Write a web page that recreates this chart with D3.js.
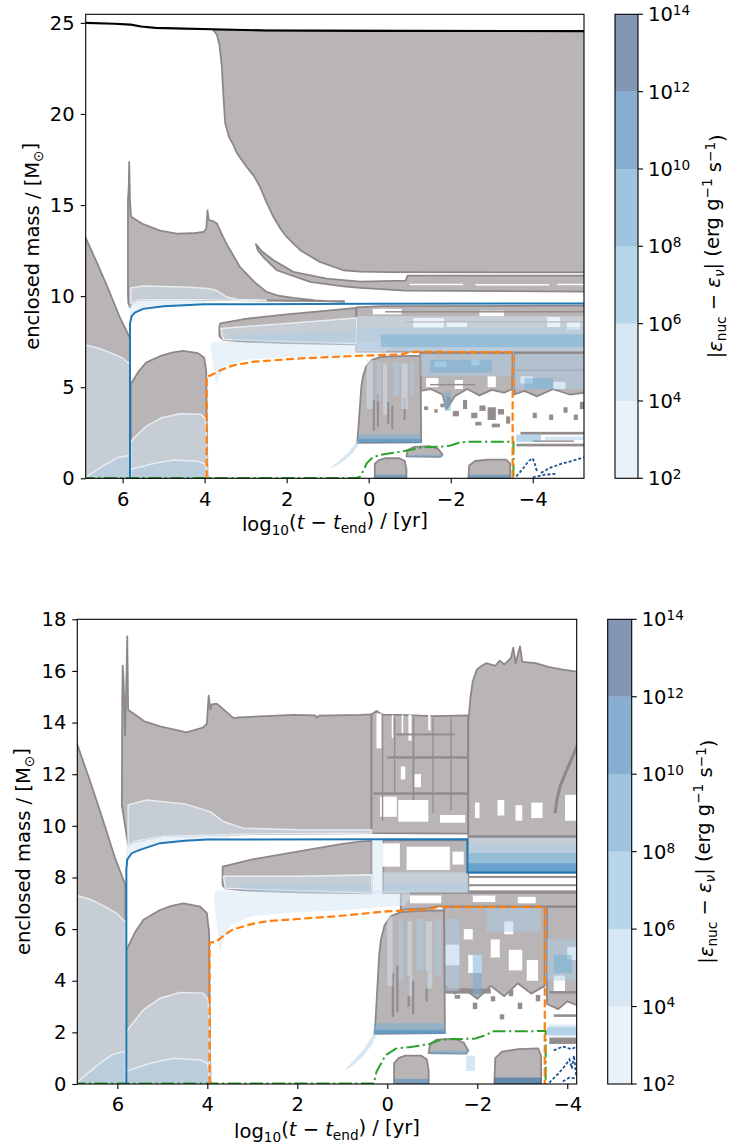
<!DOCTYPE html>
<html>
<head>
<meta charset="utf-8">
<script src="https://cdn.jsdelivr.net/npm/d3@7"></script>
<style>
body { margin: 0; background: #fff; }
text { font-family: "DejaVu Sans", sans-serif; }
</style>
</head>
<body>
<div id="chart-area"></div>
<script>
/*
*    Kippenhahn diagrams, two models
*/

// ticks and levels
var xTicks = [6, 4, 2, 0, -2, -4];
var topYTicks = [0, 5, 10, 15, 20, 25];
var botYTicks = [0, 2, 4, 6, 8, 10, 12, 14, 16, 18];
var cbExp = [2, 4, 6, 8, 10, 12, 14];
var bandColors = ["#d5e5f4", "#adcde5", "#6fadd3", "#3d89c1", "#0f5da5", "#08306b"];

// shared shapes, [log10(t-tend), mass]
var msConv = [[7.0,0],[7.0,13.7],[6.9,13.2],[6.6,11.7],[6.39,10.6],[6.06,8.8],[5.82,7.7],[5.82,0]];
var msBurnLow = [[7.0,0],[7.0,7.35],[6.9,7.3],[6.6,7.15],[6.3,6.9],[6.1,6.7],[6.0,6.6],[5.9,6.4],[5.82,6.3],[5.82,0]];
var msBurnCore = [[7.0,0],[6.9,0.05],[6.6,0.5],[6.39,0.8],[6.1,1.15],[5.87,1.24],[5.82,1.25],[5.82,0]];
var heConv = [[5.8,0],[5.8,5.2],[5.76,5.32],[5.6,5.9],[5.42,6.36],[5.05,6.74],[4.8,6.9],[4.53,7.0],[4.16,6.87],[4.01,6.62],[3.96,5.84],[3.95,3],[3.93,0.1],[3.9,0]];
var heBurnLow = [[5.8,0],[5.8,2.0],[5.72,2.22],[5.42,2.87],[5.05,3.32],[4.61,3.54],[4.09,3.52],[3.98,3.26],[3.95,2.0],[3.94,0]];
var heBurnCore = [[5.8,0],[5.8,0.5],[5.72,0.54],[5.27,0.8],[4.76,1.0],[4.16,0.93],[4.0,0.8],[3.96,0.5],[3.95,0]];
var cBlock = [[0.28,1.94],[0.26,2.5],[0.18,5.0],[0.14,5.6],[0.06,6.15],[-0.08,6.5],[-0.3,6.66],[-0.9,6.72],[-1.26,6.72],[-1.27,4.8],[-1.28,1.97]];
var blob1 = [[-0.15,0],[-0.15,0.8],[-0.25,1.0],[-0.4,1.1],[-0.75,1.1],[-0.88,0.95],[-0.92,0.5],[-0.92,0]];
var blob2 = [[-0.92,1.2],[-0.95,1.55],[-1.1,1.72],[-1.5,1.76],[-1.7,1.6],[-1.8,1.3],[-1.75,1.18]];
var haloBlue = [[3.82,7.5],[3.86,7.2],[3.82,6.6],[3.76,5.8],[3.72,5.0],[3.66,5.5],[3.5,6.15],[3.0,6.5],[2.0,6.65],[1.0,6.72],[0.2,6.85],[-0.4,6.9],[-0.5,7.2],[-0.5,7.5]];
var blueTail = [[0.95,0.55],[0.75,0.9],[0.5,1.4],[0.32,1.9],[0.22,2.3],[0.22,1.95],[0.35,1.5],[0.55,1.05],[0.85,0.6]];

// top model
var topMassLine = [[6.9,25.0],[6.2,24.95],[5.8,24.9],[5.55,24.8],[5.2,24.72],[4.5,24.68],[3.8,24.65],[2.5,24.58],[0,24.56],[-5.3,24.55]];
var topEnvelope = [[3.8,24.62],[3.7,24.35],[3.64,23.8],[3.58,22.6],[3.55,21.3],[3.5,19.5],[3.4,18.7],[3.3,18.3],[3.2,17.8],[2.97,17.08],[2.8,16.6],[2.65,16.0],[2.5,15.2],[2.32,14.34],[2.15,13.7],[2.0,13.25],[1.67,12.52],[1.19,11.88],[0.62,11.42],[0.21,11.35],[-0.5,11.32],[-5.3,11.3],[-5.3,24.55],[2.5,24.58]];
var topShell = [[5.87,10.2],[5.87,15.3],[5.85,16.0],[5.84,17.37],[5.82,15.2],[5.8,14.5],[5.78,14.34],[5.5,13.95],[5.09,13.6],[4.68,13.43],[4.3,13.45],[4.03,13.52],[3.96,13.7],[3.93,14.7],[3.9,14.2],[3.87,14.16],[3.78,14.1],[3.7,13.98],[3.62,13.6],[3.55,13.25],[3.45,12.8],[3.37,12.5],[3.14,11.6],[2.79,10.78],[2.49,10.23],[2.2,10.02],[1.84,9.9],[1.3,9.76],[0.8,9.7],[0.6,9.68],[0.6,9.72],[2.5,9.76],[4.0,9.8],[5.0,9.82],[5.6,9.8],[5.78,9.6],[5.82,9.4],[5.86,9.6]];
var topShellBurn = [[5.8,10.45],[5.5,10.55],[4.5,10.5],[3.9,10.42],[3.7,10.3],[3.46,9.95],[3.2,9.82],[2.5,9.78],[2.5,9.76],[4.0,9.8],[5.0,9.82],[5.6,9.8],[5.78,9.6],[5.8,9.7]];
var topBlueHalo = [[5.82,8.4],[5.83,9.75],[5.0,9.8],[4.0,9.76],[4.0,9.56],[5.0,9.46],[5.5,9.3],[5.7,9.1],[5.78,8.9]];
var topSliver = [[2.75,12.85],[2.6,12.45],[2.32,11.97],[1.84,11.33],[1.02,10.96],[0.21,10.8],[-0.9,10.85],[-0.95,11.12],[-5.3,11.12],[-5.3,10.25],[-0.9,10.3],[0.21,10.45],[0.62,10.54],[1.43,10.78],[2.24,11.42],[2.55,12.1],[2.7,12.5]];
var topHeShell = [[3.62,8.5],[3.0,8.75],[2.0,9.0],[1.0,9.2],[0.3,9.35],[0.3,7.35],[1.0,7.38],[2.0,7.42],[3.0,7.5],[3.55,7.6],[3.64,7.8],[3.64,8.3]];
var topHeBurn1 = [[3.6,8.22],[2.0,8.5],[0.3,8.8],[0.3,7.4],[3.55,7.62]];
var topHeBurn2 = [[3.4,7.85],[0.3,8.1],[0.3,7.4],[3.3,7.52]];
var topUpperRight = [[0.3,9.38],[-0.3,9.45],[-5.3,9.48],[-5.3,6.95],[0.3,6.95]];
var topLowerA = [[-1.26,6.88],[-3.5,6.88],[-3.5,4.9],[-3.3,4.7],[-3.0,4.85],[-2.7,4.55],[-2.4,4.9],[-2.1,4.5],[-1.9,3.8],[-1.8,4.6],[-1.5,4.9],[-1.26,4.8]];
var topLowerB = [[-3.55,6.88],[-5.3,6.88],[-5.3,4.7],[-4.9,4.6],[-4.5,4.9],[-4.1,4.5],[-3.8,4.8],[-3.55,4.6]];
var topBlob3 = [[-2.43,0],[-2.45,0.7],[-2.6,0.95],[-2.9,1.02],[-3.35,1.02],[-3.45,0.8],[-3.45,0]];
var topHoles = [[-1.0,-2.3,10.6,10.68],[-2.6,-4.4,10.58,10.66],[-4.6,-5.3,10.6,10.68],
  [-1.09,-1.83,8.25,8.8],[-1.9,-2.4,8.3,8.6],[-4.35,-4.67,8.3,8.85],[-4.83,-5.15,8.15,8.6],[-0.1,-0.8,9.0,9.3],[-2.7,-3.3,8.9,9.2],
  [-1.4,-1.7,5.0,5.5],[-2.1,-2.3,4.9,5.4],[-2.9,-3.1,5.0,5.6],[-3.7,-4.0,5.2,5.6],[-4.5,-4.8,4.9,5.3],[-1.6,-1.9,6.1,6.4],[-2.5,-2.7,6.2,6.5]];
var topFrags = [[-1.35,-1.45,3.75,3.95],[-1.6,-1.68,3.6,3.8],[-1.75,-1.85,3.9,4.1],[-2.05,-2.2,3.4,3.7],[-2.3,-2.4,3.8,4.3],[-2.5,-2.65,3.3,3.6],[-2.7,-2.85,3.7,4.0],[-2.9,-3.1,3.2,3.9],[-3.15,-3.3,3.5,3.8],[-3.35,-3.45,3.0,3.4],[-2.6,-2.75,2.9,3.1],[-3.0,-3.2,2.8,3.0],[-1.9,-2.0,4.0,4.5],[-4.0,-4.1,3.3,3.6],[-4.4,-4.5,3.2,3.5],[-4.75,-4.85,3.6,3.9],[-5.0,-5.1,3.2,3.5],[-5.15,-5.25,3.8,4.2],
  [-3.6,-5.3,1.75,1.9],[-3.7,-5.3,2.4,2.55],[-4.0,-5.0,2.0,2.08],
  [-0.1,-0.15,2.6,4.3],[-0.2,-0.25,2.8,4.6],[-0.45,-0.5,3.0,4.2],[-0.55,-0.6,2.7,4.0],[-0.85,-0.9,3.2,4.4],
  [-0.4,-5.3,9.1,9.18],[-0.9,-5.3,8.55,8.62],[-1.5,-2.6,5.1,5.18],[-3.6,-5.3,5.9,5.98]];
var topBurnRects = [[0.3,-5.3,6.95,8.9,0],[0.3,-5.3,7.05,8.3,1],[-0.3,-5.3,7.2,7.9,2],
  [-1.26,-3.5,5.6,6.8,1],[-1.5,-3.0,5.8,6.5,2],[-3.55,-5.3,4.9,6.8,1],[-3.8,-4.5,4.9,5.5,2],
  [0.05,-0.1,3.8,6.5,0],[-0.2,-0.3,4.2,6.4,1],[-0.35,-0.45,3.5,6.3,0],[-0.6,-0.75,4.5,6.4,1],[-0.8,-0.95,3.8,6.3,0],[-1.0,-1.1,4.6,6.4,1],[-1.85,-2.0,3.7,4.8,2],
  [0.26,-1.28,1.95,2.4,2],[0.26,-1.28,1.95,2.15,3],
  [-3.6,-4.2,2.0,2.4,2],[-4.3,-5.3,2.1,2.3,1],
  [-0.15,-0.92,0,0.2,3],[-2.43,-3.45,0,0.2,3],[-0.95,-1.8,1.15,1.3,2]];
var topScatter = [[[-3.6,0.1],[-3.75,0.5],[-3.9,0.95],[-4.0,1.1],[-4.05,0.8],[-4.1,0.4]],
  [[-4.2,0.3],[-4.45,0.6],[-4.7,0.8],[-4.95,0.95],[-5.25,1.15]],
  [[-4.0,0.05],[-4.3,0.2],[-4.6,0.25]]];
var topHeCore = [[5.82,0],[5.82,8.5],[5.78,8.9],[5.7,9.1],[5.5,9.3],[5.0,9.45],[4.0,9.55],[0,9.58],[-5.3,9.6]];
var topCOCore = [[3.95,0],[3.95,5.6],[3.85,5.65],[3.6,5.95],[3.3,6.2],[2.8,6.4],[1.67,6.58],[0.5,6.7],[-0.5,6.78],[-0.8,6.8],[-1.0,6.92],[-1.2,6.94],[-3.51,6.92],[-3.51,0]];
var topFeCore = [[7.0,0.02],[0.3,0.02],[0.21,0.09],[0.1,0.55],[0.05,0.82],[-0.1,1.15],[-0.28,1.28],[-0.6,1.4],[-1.01,1.55],[-1.3,1.7],[-1.74,1.73],[-2.0,1.8],[-2.2,1.95],[-2.39,2.0],[-3.53,2.0],[-3.53,0.0]];

// bottom model
var botShell = [[5.9,10.8],[5.89,15.0],[5.88,16.2],[5.86,15.6],[5.83,13.5],[5.8,15.5],[5.78,17.34],[5.76,14.5],[5.4,14.05],[5.05,13.85],[4.46,13.62],[4.1,13.8],[4.01,13.95],[3.97,15.04],[3.93,14.5],[3.9,14.7],[3.79,14.73],[3.6,14.45],[3.42,14.17],[3.3,14.2],[2.09,14.3],[1.6,14.28],[1.57,14.18],[1.52,14.27],[0.61,14.3],[0.35,14.32],[0.35,9.72],[3.0,9.68],[5.0,9.6],[5.6,9.4],[5.76,9.25]];
var botShellBurn = [[5.76,10.81],[5.35,11.0],[4.5,10.85],[3.94,10.55],[3.65,10.17],[3.2,9.91],[2.0,9.85],[0.35,9.84],[0.35,9.72],[3.0,9.68],[5.0,9.6],[5.6,9.4],[5.76,9.25]];
var botBlueHalo = [[5.8,8.3],[5.8,9.3],[5.0,9.62],[3.5,9.68],[3.5,9.46],[4.5,9.42],[5.05,9.33],[5.5,9.07],[5.68,8.94]];
var botHeShell = [[3.66,8.42],[3.0,8.7],[2.0,9.0],[1.0,9.3],[0.61,9.39],[0.35,9.42],[0.35,7.38],[2.0,7.42],[3.2,7.5],[3.6,7.58],[3.66,7.7]];
var botHeBurn1 = [[3.64,8.05],[2.0,8.05],[0.35,8.1],[0.35,7.4],[3.6,7.58]];
var botHeBurn2 = [[3.3,7.75],[0.35,7.75],[0.35,7.4],[3.2,7.5]];
var botMid = [[0.35,14.32],[0.24,14.45],[0.1,14.3],[-0.3,14.3],[-1.0,14.25],[-1.8,14.28],[-1.8,9.7],[0.35,9.72]];
var botTall = [[-1.8,9.6],[-1.8,14.0],[-1.85,15.0],[-1.9,15.6],[-1.99,16.05],[-2.1,16.2],[-2.2,16.3],[-2.4,16.2],[-2.5,16.4],[-2.6,16.25],[-2.75,16.5],[-2.8,16.9],[-2.85,16.3],[-2.95,16.95],[-3.0,16.35],[-3.3,16.3],[-3.6,16.15],[-3.9,16.05],[-4.1,16.0],[-4.3,15.95],[-4.3,9.6]];
var botShell2 = [[-1.8,9.55],[-4.3,9.55],[-4.3,8.19],[-1.8,8.19]];
var botArc = [[-4.3,13.3],[-4.21,13.07],[-4.1,12.6],[-3.95,12.0],[-3.84,11.52],[-3.77,11.0],[-3.73,10.49]];
var botMidLower = [[0.09,9.44],[-1.8,9.44],[-1.8,7.4],[0.09,7.4]];
var botStrip7 = [[-0.3,7.4],[-4.3,7.4],[-4.3,6.88],[-1.1,6.88],[-0.9,6.8],[-0.3,6.75]];
var botLowerA = [[-1.26,6.86],[-3.5,6.86],[-3.5,3.8],[-3.2,3.5],[-2.9,3.9],[-2.6,3.4],[-2.3,3.8],[-2.0,3.3],[-1.7,3.7],[-1.5,3.5],[-1.26,3.8]];
var botLowerB = [[-3.55,6.86],[-4.3,6.86],[-4.3,3.0],[-4.0,3.2],[-3.8,2.9],[-3.55,3.1]];
var botBlob3 = [[-2.38,0],[-2.4,1.0],[-2.55,1.25],[-2.9,1.35],[-3.35,1.38],[-3.42,1.1],[-3.42,0]];
var botHoles = [[0.24,0.13,13.0,14.35],[-0.1,-0.13,13.4,14.3],[-0.32,-0.355,13.6,14.3],[-0.47,-0.54,13.3,14.3],[-0.91,-0.96,13.7,14.3],
  [0.16,-0.21,10.35,11.13],[-0.244,-0.911,10.16,11.0],[-1.17,-1.73,10.12,10.42],[-0.6,-0.75,11.5,12.0],[-0.3,-0.4,11.8,12.3],
  [-1.95,-2.05,10.3,10.9],[-2.45,-2.6,10.4,11.0],[-2.85,-3.0,10.2,10.8],[-3.2,-3.45,10.3,10.9],[-3.95,-4.3,10.2,11.2],
  [0.16,-0.28,8.42,9.32],[-0.43,-1.39,8.29,9.19],[-1.45,-1.7,8.5,9.0],
  [-0.5,-1.2,7.0,7.3],[-1.9,-2.4,7.05,7.3],[-2.9,-3.3,7.0,7.25],
  [-1.3,-1.6,4.6,5.4],[-1.8,-2.1,4.3,5.0],[-2.3,-2.5,4.9,5.6],[-2.7,-3.0,4.4,5.2],[-3.1,-3.35,4.0,4.8],[-1.7,-1.9,5.6,6.0],[-2.6,-2.8,5.8,6.3],[-3.7,-3.95,3.6,4.2],[-4.0,-4.2,4.8,5.3]];
var botFrags = [[0.12,0.09,10.2,14.3],[-0.15,-0.18,11.2,14.2],[-0.56,-0.6,11.0,14.2],[-1.0,-1.03,10.5,14.2],[-1.4,-1.43,10.6,14.2],
  [0.3,-1.8,11.2,11.3],[0.0,-1.8,12.6,12.7],[-0.2,-1.5,13.5,13.58],
  [-1.8,-4.3,7.98,8.06],[-1.8,-4.3,7.66,7.74],[-1.8,-4.3,7.4,7.5],
  [-1.26,-2.3,3.5,3.7],[-1.5,-1.62,3.3,3.45],[-1.9,-2.0,2.9,3.15],[-2.3,-2.4,3.2,3.4],[-2.7,-2.8,3.4,3.65],[-2.9,-3.0,2.9,3.15],[-3.3,-3.4,3.2,3.45],[-2.5,-2.6,2.5,2.7],
  [-3.6,-4.3,3.5,3.6],[-3.7,-4.3,2.6,2.7],[-3.6,-4.3,1.55,1.8],
  [-0.1,-0.15,2.6,4.3],[-0.2,-0.25,2.8,4.6],[-0.45,-0.5,3.0,4.2],[-0.55,-0.6,2.7,4.0],[-0.85,-0.9,3.2,4.4]];
var botBurnRects = [[-1.8,-4.3,8.19,9.55,0],[-1.8,-4.3,8.19,9.3,1],[-1.8,-4.3,8.19,8.95,2],[-1.8,-4.3,8.19,8.55,3],
  [0.35,0.09,7.4,9.45,0],[0.09,-1.8,7.4,8.2,0],[0.09,-1.8,7.45,7.8,1],
  [-1.3,-1.6,3.6,6.4,1],[-1.9,-2.1,3.4,5.0,2],[-2.2,-3.4,5.9,6.8,1],[-3.55,-4.3,4.0,5.6,1],[-3.7,-4.1,4.3,5.0,2],
  [0.0,-0.12,3.8,6.5,0],[-0.25,-0.35,4.0,6.4,1],[-0.45,-0.55,3.4,6.3,0],[-0.65,-0.8,4.4,6.4,1],[-0.85,-1.0,3.7,6.3,0],[-1.05,-1.2,4.2,6.4,1],
  [0.3,-1.28,1.94,2.35,2],[0.3,-1.28,1.94,2.1,3],
  [-3.55,-4.3,1.9,2.2,2],[-3.6,-4.3,1.85,2.3,1],
  [-0.15,-0.92,0,0.2,3],[-2.38,-3.42,0,0.25,4],[-1.75,-1.95,0.5,1.1,1],[-0.95,-1.8,1.15,1.3,2]];
var botScatter = [[[-3.6,0.05],[-3.8,0.4],[-3.95,0.7],[-4.05,0.95],[-4.1,0.6],[-4.15,1.1],[-4.2,0.3]],
  [[-3.7,1.3],[-3.9,1.45],[-4.1,1.35],[-4.25,1.5]],
  [[-3.9,0.1],[-4.05,0.25],[-4.25,0.2]]];
var botHeCore = [[5.8,0],[5.8,8.3],[5.78,8.7],[5.68,8.94],[5.5,9.07],[5.05,9.33],[4.5,9.42],[4,9.47],[0,9.48],[-1.78,9.48],[-1.78,8.19],[-4.3,8.19]];
var botCOCore = [[3.95,0],[3.95,5.48],[3.81,5.5],[3.6,5.8],[3.43,5.99],[3.0,6.2],[2.66,6.31],[1.12,6.5],[0.0,6.69],[-0.88,6.76],[-1.0,6.8],[-1.11,6.86],[-3.5,6.86],[-3.5,0]];
var botFeCore = [[7.0,0.02],[0.3,0.02],[0.24,0.47],[0.04,1.11],[-0.19,1.37],[-0.6,1.45],[-0.96,1.56],[-1.19,1.72],[-1.96,1.76],[-2.2,1.9],[-2.34,2.04],[-3.52,2.05],[-3.52,0]];

var svg = d3.select("#chart-area").append("svg")
    .attr("width", 729)
    .attr("height", 1148);

var convFill = "#b9b5b6", convEdge = "#8e8789", fragFill = "#948d8f";
var fs = "19.5px";

function rich(sel, parts) {
    // parts: [text, kind]
    var base = 0;
    parts.forEach(function(p) {
        var t = sel.append("tspan").text(p[0]);
        var want = 0;
        if (p[1].indexOf("sub") >= 0) want = 0.3;
        if (p[1].indexOf("sup") >= 0) want = -0.45;
        if (want != base) t.attr("dy", (want - base) + "em");
        base = want;
        if (p[1].indexOf("sub") >= 0 || p[1].indexOf("sup") >= 0) t.attr("font-size", "0.7em");
        if (p[1].indexOf("i") == 0) t.attr("font-style", "italic");
    });
}

function panel(cfg) {
    var x = d3.scaleLinear().domain(cfg.xDom).range([cfg.left, cfg.right]);
    var y = d3.scaleLinear().domain(cfg.yDom).range([cfg.bottom, cfg.top]);
    var line = d3.line().x(function(d) { return x(d[0]); }).y(function(d) { return y(d[1]); });

    var clipId = "clip" + cfg.id;
    svg.append("clipPath").attr("id", clipId).append("rect")
        .attr("x", cfg.left).attr("y", cfg.top)
        .attr("width", cfg.right - cfg.left).attr("height", cfg.bottom - cfg.top);
    var g = svg.append("g").attr("clip-path", "url(#" + clipId + ")");

    function rects(list, fillFn, op) {
        g.append("g").selectAll("rect").data(list).enter().append("rect")
            .attr("x", function(d) { return Math.min(x(d[0]), x(d[1])); })
            .attr("width", function(d) { return Math.abs(x(d[1]) - x(d[0])); })
            .attr("y", function(d) { return y(d[3]); })
            .attr("height", function(d) { return y(d[2]) - y(d[3]); })
            .attr("fill", fillFn)
            .attr("fill-opacity", op);
    }

    // convective zones
    g.append("g").selectAll("path").data(cfg.conv).enter().append("path")
        .attr("d", function(d) { return line(d) + "Z"; })
        .attr("fill", convFill)
        .attr("stroke", convEdge)
        .attr("stroke-width", 1.8)
        .attr("stroke-linejoin", "round");
    rects(cfg.holes, "#ffffff", 1);
    rects(cfg.frags, fragFill, 1);

    // burning zones
    g.append("g").selectAll("path").data(cfg.burn).enter().append("path")
        .attr("d", function(d) { return line(d.pts) + "Z"; })
        .attr("fill", function(d) { return bandColors[d.band]; })
        .attr("fill-opacity", 0.5)
        .attr("stroke", function(d) { return d.edge ? "#e8ecf1" : "none"; })
        .attr("stroke-width", 1.5);
    rects(cfg.burnRects, function(d) { return bandColors[d[4]]; }, 0.5);

    if (cfg.arc) {
        g.append("path").attr("d", line(cfg.arc)).attr("fill", "none")
            .attr("stroke", convEdge).attr("stroke-width", 3);
    }
    g.append("g").selectAll("path").data(cfg.scatter).enter().append("path")
        .attr("d", function(d) { return line(d); })
        .attr("fill", "none").attr("stroke", "#1f4f8f")
        .attr("stroke-width", 1.8).attr("stroke-dasharray", "3,2");

    // core boundaries
    g.append("path").attr("d", line(cfg.feCore)).attr("fill", "none")
        .attr("stroke", "#2ca02c").attr("stroke-width", 2)
        .attr("stroke-dasharray", "13,3.5,2.2,3.5");
    g.append("path").attr("d", line(cfg.coCore)).attr("fill", "none")
        .attr("stroke", "#ff7f0e").attr("stroke-width", 2.2)
        .attr("stroke-dasharray", "8,3.5");
    g.append("path").attr("d", line(cfg.heCore)).attr("fill", "none")
        .attr("stroke", "#1f77b4").attr("stroke-width", 2);
    if (cfg.mass) {
        g.append("path").attr("d", line(cfg.mass)).attr("fill", "none")
            .attr("stroke", "#000").attr("stroke-width", 2.2);
    }

    // axes
    var xAxis = d3.axisBottom(x).tickValues(xTicks).tickSize(5).tickPadding(cfg.xPad);
    var yAxis = d3.axisLeft(y).tickValues(cfg.yTicks).tickSize(5).tickPadding(6);
    var ax = svg.append("g").attr("transform", "translate(0," + cfg.bottom + ")").call(xAxis);
    var ay = svg.append("g").attr("transform", "translate(" + cfg.left + ",0)").call(yAxis);
    [ax, ay].forEach(function(a) {
        a.select(".domain").remove();
        a.selectAll("text").attr("font-size", fs).attr("font-family", "DejaVu Sans").attr("fill", "#000");
        a.selectAll("line").attr("stroke", "#000").attr("stroke-width", 1.1);
    });
    svg.append("rect").attr("x", cfg.left).attr("y", cfg.top)
        .attr("width", cfg.right - cfg.left).attr("height", cfg.bottom - cfg.top)
        .attr("fill", "none").attr("stroke", "#000").attr("stroke-width", 1.1);

    var xl = svg.append("text").attr("x", (cfg.left + cfg.right) / 2).attr("y", cfg.xLabelY)
        .attr("text-anchor", "middle").attr("font-size", fs);
    rich(xl, [["log", "n"], ["10", "sub"], ["(", "n"], ["t", "i"], [" \u2212 ", "n"], ["t", "i"], ["end", "sub"], [") / [yr]", "n"]]);
    var yl = svg.append("text").attr("transform", "translate(" + cfg.yLabelX + "," + ((cfg.top + cfg.bottom) / 2) + ") rotate(-90)")
        .attr("text-anchor", "middle").attr("font-size", fs);
    rich(yl, [["enclosed mass / [M", "n"], ["\u2299", "sub"], ["]", "n"]]);

    // colorbar
    var cy = d3.scaleLinear().domain([2, 14]).range([cfg.bottom, cfg.top]);
    var cb = svg.append("g");
    cb.selectAll("rect").data(d3.range(6)).enter().append("rect")
        .attr("x", cfg.cbLeft).attr("width", cfg.cbWidth)
        .attr("y", function(i) { return cy(cbExp[i + 1]); })
        .attr("height", function(i) { return cy(cbExp[i]) - cy(cbExp[i + 1]); })
        .attr("fill", function(i) { return bandColors[i]; })
        .attr("fill-opacity", 0.5);
    cb.append("rect").attr("x", cfg.cbLeft).attr("y", cfg.top)
        .attr("width", cfg.cbWidth).attr("height", cfg.bottom - cfg.top)
        .attr("fill", "none").attr("stroke", "#000").attr("stroke-width", 1.1);
    var cx = cfg.cbLeft + cfg.cbWidth;
    cbExp.forEach(function(e) {
        cb.append("line").attr("x1", cx).attr("x2", cx + 5)
            .attr("y1", cy(e)).attr("y2", cy(e)).attr("stroke", "#000").attr("stroke-width", 1.1);
        var t = cb.append("text").attr("x", cx + 10).attr("y", cy(e) + 7).attr("font-size", fs);
        rich(t, [["10", "n"], [String(e), "sup"]]);
    });
    var cl = svg.append("text").attr("transform", "translate(" + cfg.cbLabelX + "," + ((cfg.top + cfg.bottom) / 2) + ") rotate(-90)")
        .attr("text-anchor", "middle").attr("font-size", fs);
    rich(cl, [["|", "n"], ["\u03b5", "i"], ["nuc", "sub"], [" \u2212 ", "n"], ["\u03b5", "i"], ["\u03bd", "isub"], ["| (erg g", "n"], ["\u22121", "sup"], [" s", "n"], ["\u22121", "sup"], [")", "n"]]);
}

var sharedBurn = [
    {pts: msBurnLow, band: 0, edge: true}, {pts: msBurnCore, band: 1, edge: true},
    {pts: heBurnLow, band: 0, edge: true}, {pts: heBurnCore, band: 1, edge: true},
    {pts: haloBlue, band: 0}, {pts: blueTail, band: 1}
];

panel({
    id: "top", xDom: [6.9, -5.25], yDom: [0, 25.47],
    left: 85.7, right: 584, top: 14.3, bottom: 478.3,
    yTicks: topYTicks, xPad: 9, xLabelY: 531, yLabelX: 38.5,
    cbLeft: 615, cbWidth: 23, cbLabelX: 722,
    conv: [topEnvelope, topShell, topSliver, topHeShell, topUpperRight, topLowerA, topLowerB, msConv, heConv, cBlock, blob1, blob2, topBlob3],
    holes: topHoles, frags: topFrags,
    burn: sharedBurn.concat([
        {pts: topShellBurn, band: 0, edge: true}, {pts: topBlueHalo, band: 0},
        {pts: topHeBurn1, band: 0, edge: true}, {pts: topHeBurn2, band: 1}
    ]),
    burnRects: topBurnRects, scatter: topScatter,
    heCore: topHeCore, coCore: topCOCore, feCore: topFeCore, mass: topMassLine
});

panel({
    id: "bot", xDom: [6.89, -4.21], yDom: [0, 18],
    left: 77.3, right: 576.7, top: 619.3, bottom: 1084,
    yTicks: botYTicks, xPad: 8, xLabelY: 1138, yLabelX: 30,
    cbLeft: 607.7, cbWidth: 24, cbLabelX: 713,
    conv: [botShell, botHeShell, botMid, botTall, botShell2, botMidLower, botStrip7, botLowerA, botLowerB, msConv, heConv, cBlock, blob1, blob2, botBlob3],
    holes: botHoles, frags: botFrags,
    burn: sharedBurn.concat([
        {pts: botShellBurn, band: 0, edge: true}, {pts: botBlueHalo, band: 0},
        {pts: botHeBurn1, band: 0, edge: true}, {pts: botHeBurn2, band: 1}
    ]),
    burnRects: botBurnRects, scatter: botScatter, arc: botArc,
    heCore: botHeCore, coCore: botCOCore, feCore: botFeCore
});
</script>
</body>
</html>
